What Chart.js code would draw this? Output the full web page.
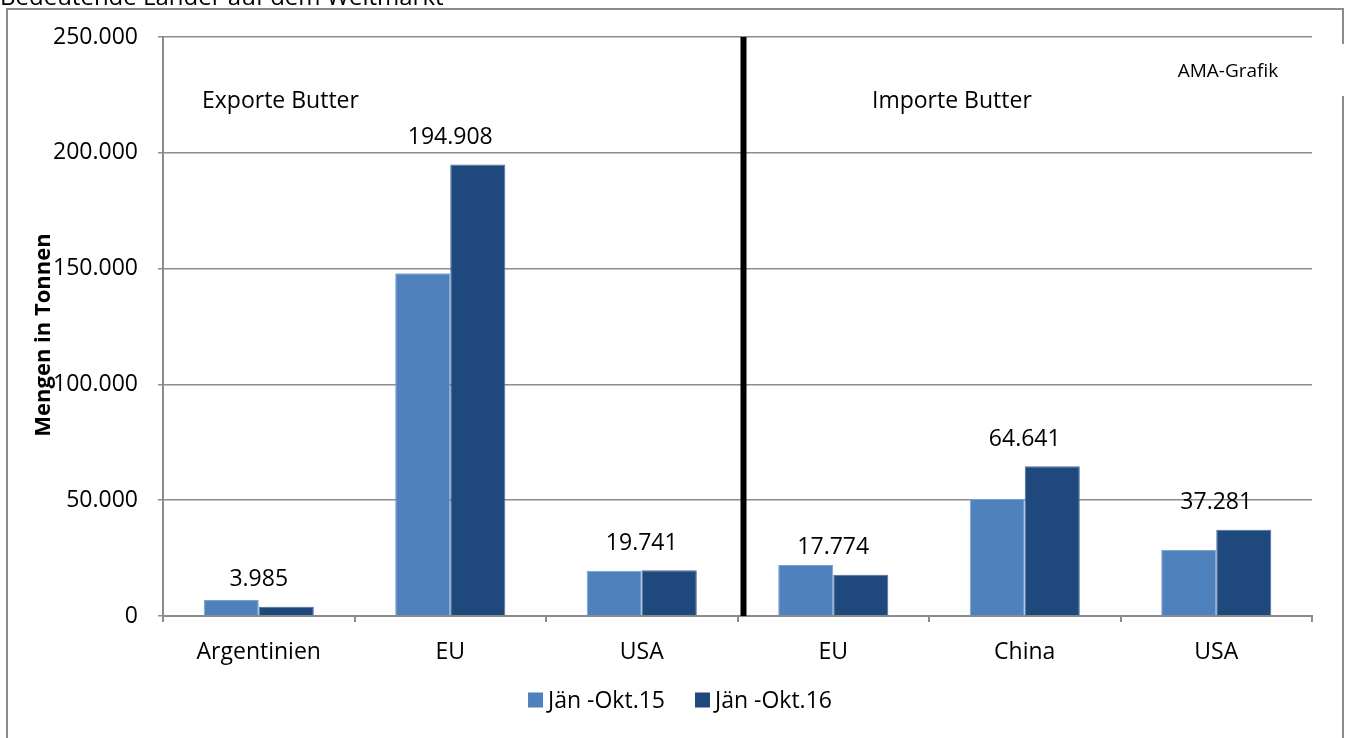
<!DOCTYPE html>
<html lang="de">
<head>
<meta charset="utf-8">
<title>Butter Weltmarkt</title>
<script src="https://cdn.jsdelivr.net/npm/chart.js@4.4.1/dist/chart.umd.min.js"></script>
<style>
    html, body { margin: 0; padding: 0; background: #fff; overflow: hidden; }
    #chart { display: block; }
</style>
</head>
<body>
<canvas id="chart" width="1349" height="738"></canvas>
<script>
// Daten
const categories = ['Argentinien', 'EU', 'USA', 'EU', 'China', 'USA'];
const seriesLabels = ['Jän -Okt.15', 'Jän -Okt.16'];
const values15 = [6900, 148000, 19500, 22000, 50500, 28500];
const values16 = [3985, 194908, 19741, 17774, 64641, 37281];
const sectionTitles = ['Exporte Butter', 'Importe Butter'];
const yMax = 250000;
const yStep = 50000;

const FONT = '"Open Sans", "Liberation Sans", sans-serif';
const GRID = '#8c8c8c';
const colors = ['#4f81bd', '#1f497d'];
const edges = ['#7ea1d0', '#4b6e9c'];

// Zahl mit Tausenderpunkt
function fmt(v) {
    return String(v).replace(/\B(?=(\d{3})+(?!\d))/g, '.');
}

const deco = {
    id: 'deco',
    beforeDraw(chart) {
        const ctx = chart.ctx;
        ctx.save();
        ctx.fillStyle = '#fff';
        ctx.fillRect(0, 0, chart.width, chart.height);
        // Rahmen
        ctx.strokeStyle = GRID;
        ctx.lineWidth = 2;
        ctx.strokeRect(7, 9, 1336, 800);
        // abgeschnittener Titel oben
        ctx.fillStyle = '#000';
        ctx.font = '24px ' + FONT;
        ctx.textAlign = 'left';
        ctx.textBaseline = 'alphabetic';
        ctx.fillText('Bedeutende Länder auf dem Weltmarkt', 0, 5);
        // AMA-Grafik Textfeld
        ctx.fillStyle = '#fff';
        ctx.fillRect(1320, 44, 29, 52);
        ctx.fillStyle = '#000';
        ctx.font = '19px ' + FONT;
        ctx.textAlign = 'center';
        ctx.textBaseline = 'middle';
        ctx.fillText('AMA-Grafik', 1228, 72);
        ctx.restore();
    },
    afterDraw(chart) {
        const ctx = chart.ctx;
        const x = chart.scales.x;
        const y = chart.scales.y;
        const area = chart.chartArea;
        ctx.save();

        // Trennlinie Exporte / Importe
        const sep = (x.getPixelForValue(2) + x.getPixelForValue(3)) / 2 + 6;
        ctx.fillStyle = '#000';
        ctx.fillRect(sep - 3, area.top, 6, area.bottom - area.top);

        // Abschnittstitel
        ctx.font = '23px ' + FONT;
        ctx.textAlign = 'left';
        ctx.textBaseline = 'middle';
        ctx.fillText(sectionTitles[0], 202, 101);
        ctx.fillText(sectionTitles[1], 872, 101);

        // Datenbeschriftung nur für Jän -Okt.16
        ctx.textAlign = 'center';
        values16.forEach((v, i) => {
            ctx.fillText(fmt(v), x.getPixelForValue(i), y.getPixelForValue(v) - 27);
        });

        // Achsentitel
        ctx.save();
        ctx.translate(44, 335);
        ctx.rotate(-Math.PI / 2);
        ctx.font = 'bold 22px ' + FONT;
        ctx.fillText('Mengen in Tonnen', 0, 0);
        ctx.restore();

        // Legende
        ctx.font = '23px ' + FONT;
        ctx.textAlign = 'left';
        const box = 15, gap = 5, spacing = 30;
        const widths = seriesLabels.map(l => ctx.measureText(l).width);
        const total = widths.reduce((a, w) => a + box + gap + w, 0) + spacing;
        let lx = 680 - total / 2;
        const ly = 700;
        seriesLabels.forEach((l, i) => {
            ctx.fillStyle = colors[i];
            ctx.fillRect(lx, ly - box / 2, box, box);
            ctx.fillStyle = '#000';
            ctx.fillText(l, lx + box + gap, ly + 1);
            lx += box + gap + widths[i] + spacing;
        });
        ctx.restore();
    }
};

new Chart(document.getElementById('chart'), {
    type: 'bar',
    data: {
        labels: categories,
        datasets: [
            { label: seriesLabels[0], data: values15, backgroundColor: colors[0], borderColor: edges[0], borderWidth: 1 },
            { label: seriesLabels[1], data: values16, backgroundColor: colors[1], borderColor: edges[1], borderWidth: 1 }
        ]
    },
    options: {
        responsive: false,
        animation: false,
        devicePixelRatio: 1,
        categoryPercentage: 0.575,
        barPercentage: 1,
        layout: { padding: { left: 0, top: 37, right: 37, bottom: 0 } },
        plugins: {
            legend: { display: false },
            tooltip: { enabled: false }
        },
        scales: {
            x: {
                afterFit(s) { s.height = 738 - 616; },
                grid: { drawOnChartArea: false, drawTicks: true, tickLength: 6, color: GRID, lineWidth: 2, offset: true },
                border: { color: GRID, width: 2 },
                ticks: { color: '#000', font: { family: FONT, size: 23 }, padding: 17, maxRotation: 0 }
            },
            y: {
                min: 0,
                max: yMax,
                afterFit(s) { s.width = 163; },
                grid: { color: GRID, lineWidth: 1.5, tickLength: 5 },
                border: { color: GRID, width: 2 },
                ticks: {
                    stepSize: yStep,
                    color: '#000',
                    padding: 20,
                    font: { family: FONT, size: 23 },
                    callback: v => fmt(v)
                }
            }
        }
    },
    plugins: [deco]
});
</script>
</body>
</html>
